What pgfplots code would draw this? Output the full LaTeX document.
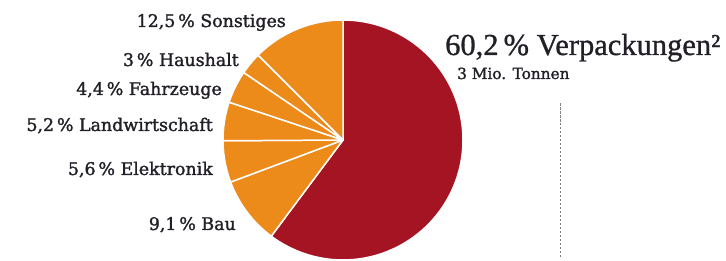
\documentclass[border=0pt]{standalone}
\usepackage{pgfplots}
\pgfplotsset{compat=1.18}
\usepackage{fontspec}
\setmainfont{DejaVu Serif}
\newfontfamily\labelfont[FakeBold=1.6]{DejaVu Serif}
\newfontfamily\titlefont[FakeBold=1.0]{Liberation Serif}
\definecolor{pieRed}{HTML}{A51422}
\definecolor{pieOrange}{HTML}{EC8A1A}
\definecolor{txt}{HTML}{231F28}
\gdef\cum{0}
\newcommand{\slice}[2]{%
  \pgfmathsetmacro\sa{90-3.6*\cum}%
  \pgfmathsetmacro\newcum{\cum+#1}%
  \pgfmathsetmacro\sb{90-3.6*\newcum}%
  \xdef\cum{\newcum}%
  \edef\tmp{\noexpand\addplot[fill=#2, draw=white, line width=1.5pt, line join=round,
    domain=\sb:\sa, samples=90, variable=\noexpand\t]
    ({343+120*cos(\noexpand\t)},{120+120*sin(\noexpand\t)}) -- (axis cs:343,120) -- cycle;}%
  \tmp
}
\begin{document}
\begin{tikzpicture}
\begin{axis}[
  width=726bp, height=260bp, scale only axis,
  xmin=0, xmax=726, ymin=0, ymax=260,
  hide axis, clip=false,
]
\path (axis cs:0,0) rectangle (axis cs:726,260);
% shares in percent, clockwise from the top
\slice{60.2}{pieRed}
\slice{9.1}{pieOrange}
\slice{5.6}{pieOrange}
\slice{5.2}{pieOrange}
\slice{4.4}{pieOrange}
\slice{3.0}{pieOrange}
\slice{12.5}{pieOrange}
\addplot[gray, dash pattern=on 2.5pt off 1.5pt, line width=0.8pt] coordinates {(560,3) (560,158)};
\begin{scope}[every node/.style={text=txt, font=\labelfont\fontsize{17.4bp}{20bp}\selectfont, inner sep=0pt}]
\node[anchor=base east] at (axis cs:286,233) {12,5\,\% Sonstiges};
\node[anchor=base east] at (axis cs:239,194) {3\,\% Haushalt};
\node[anchor=base east] at (axis cs:222,165) {4,4\,\% Fahrzeuge};
\node[anchor=base east] at (axis cs:213,129) {5,2\,\% Landwirtschaft};
\node[anchor=base east] at (axis cs:213,85) {5,6\,\% Elektronik};
\node[anchor=base east] at (axis cs:236,30) {9,1\,\% Bau};
\node[anchor=base west, font=\labelfont\fontsize{15.3bp}{18bp}\selectfont] at (axis cs:457,181) {3 Mio. Tonnen};
\node[anchor=base west, font=\titlefont\fontsize{30.5bp}{32bp}\selectfont] at (axis cs:445,205) {60,2\,\% Verpackungen²};
\end{scope}
\end{axis}
\end{tikzpicture}
\end{document}
